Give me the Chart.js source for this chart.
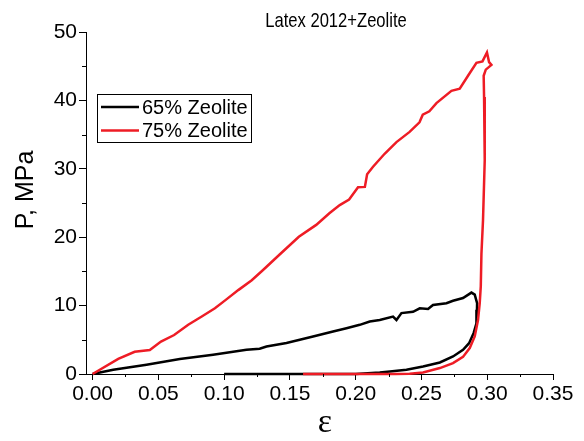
<!DOCTYPE html>
<html>
<head>
<meta charset="utf-8">
<script src="https://cdn.jsdelivr.net/npm/chart.js@4.4.0/dist/chart.umd.min.js"></script>
<style>
  body { margin: 0; background: #fff; }
  #wrap { width: 584px; height: 441px; }
</style>
</head>
<body>
<div id="wrap"><canvas id="myChart" width="584" height="441"></canvas></div>
<script>
// values (strain, stress in MPa)
const strain65 = [0, 0.0157, 0.041, 0.0663, 0.0916, 0.117, 0.127, 0.1322, 0.1474, 0.1575, 0.1676, 0.1828, 0.193, 0.2031, 0.2107, 0.2183, 0.2284, 0.231, 0.2348, 0.2436, 0.2487, 0.255, 0.2588, 0.269, 0.274, 0.2816, 0.288, 0.2905, 0.2923, 0.2922, 0.2918, 0.2897, 0.2862, 0.2816, 0.274, 0.264, 0.2512, 0.2386, 0.226, 0.2183, 0.20, 0.10];
const stress65 = [0, 0.63, 1.36, 2.19, 2.81, 3.54, 3.69, 4.02, 4.52, 5.0, 5.48, 6.21, 6.7, 7.19, 7.67, 7.9, 8.4, 7.9, 8.9, 9.1, 9.6, 9.5, 10.1, 10.35, 10.7, 11.1, 11.9, 11.6, 10.35, 9.4, 7.4, 6.0, 4.5, 3.54, 2.57, 1.69, 1.1, 0.63, 0.38, 0.23, 0, 0];

const strain75 = [0, 0.0195, 0.032, 0.0435, 0.052, 0.062, 0.0727, 0.083, 0.093, 0.101, 0.111, 0.121, 0.1296, 0.1418, 0.1568, 0.170, 0.180, 0.1879, 0.195, 0.2018, 0.207, 0.2087, 0.2132, 0.222, 0.231, 0.241, 0.2485, 0.251, 0.256, 0.2614, 0.2728, 0.2791, 0.2854, 0.2918, 0.2964, 0.2998, 0.3014, 0.3032, 0.2989, 0.2973, 0.2976, 0.2981, 0.2968, 0.2956, 0.2951, 0.2943, 0.293, 0.2905, 0.2867, 0.2816, 0.274, 0.264, 0.2512, 0.241, 0.23, 0.16];
const stress75 = [0, 2.2, 3.25, 3.5, 4.75, 5.7, 7.2, 8.4, 9.6, 10.8, 12.3, 13.7, 15.2, 17.4, 20.06, 21.8, 23.5, 24.7, 25.5, 27.3, 27.35, 29.2, 30.3, 32.2, 33.9, 35.4, 36.8, 37.9, 38.4, 39.6, 41.4, 41.7, 43.6, 45.5, 45.7, 47.0, 45.6, 45.2, 44.5, 43.6, 40.5, 31.2, 22.5, 17.6, 12.8, 10.35, 7.9, 5.5, 3.8, 2.5, 1.6, 0.87, 0.23, 0.05, 0, 0];

const seriesNames = ['65% Zeolite', '75% Zeolite'];
const seriesColors = ['#000000', '#ee1c25'];

const xTicks = [0, 0.05, 0.10, 0.15, 0.20, 0.25, 0.30, 0.35];
const xMinor = [0.025, 0.075, 0.125, 0.175, 0.225, 0.275, 0.325];
const yTicks = [0, 10, 20, 30, 40, 50];
const yMinor = [5, 15, 25, 35, 45];

const titleText = 'Latex 2012+Zeolite';
const xTitle = 'ε';
const yTitle = 'P, MPa';

const SANS = '"Liberation Sans", Arial, sans-serif';

function toPoints(xs, ys) {
    return xs.map((x, i) => ({ x: x, y: ys[i] }));
}

// minor ticks, titles and the boxed legend
const decorations = {
    id: 'decorations',
    afterDraw(chart) {
        const ctx = chart.ctx;
        const xs = chart.scales.x, ys = chart.scales.y;
        ctx.save();
        ctx.strokeStyle = '#000';
        ctx.lineWidth = 1;
        ctx.beginPath();
        for (const v of xMinor) {
            const px = Math.round(xs.getPixelForValue(v)) + 0.5;
            ctx.moveTo(px, ys.bottom);
            ctx.lineTo(px, ys.bottom + 3);
        }
        for (const v of yMinor) {
            const py = Math.round(ys.getPixelForValue(v)) + 0.5;
            ctx.moveTo(xs.left, py);
            ctx.lineTo(xs.left - 4, py);
        }
        ctx.stroke();

        ctx.fillStyle = '#000';
        ctx.textAlign = 'center';
        ctx.textBaseline = 'alphabetic';

        // title is a narrow face in the original
        ctx.save();
        ctx.translate(336, 27);
        ctx.scale(0.79, 1);
        ctx.font = '21px ' + SANS;
        ctx.fillText(titleText, 0, 0);
        ctx.restore();

        ctx.font = '34px "Liberation Serif", serif';
        ctx.fillText(xTitle, 325, 432);

        ctx.save();
        ctx.translate(26, 190);
        ctx.rotate(-Math.PI / 2);
        ctx.textBaseline = 'middle';
        ctx.font = '25px ' + SANS;
        ctx.fillText(yTitle, 0, 0);
        ctx.restore();

        // legend
        ctx.lineWidth = 1;
        ctx.strokeStyle = '#000';
        ctx.strokeRect(97.5, 94.5, 154, 48);
        ctx.textAlign = 'left';
        ctx.textBaseline = 'middle';
        ctx.font = '20px ' + SANS;
        seriesNames.forEach((name, i) => {
            const y = 107 + i * 23.5;
            ctx.strokeStyle = seriesColors[i];
            ctx.lineWidth = 2.5;
            ctx.beginPath();
            ctx.moveTo(101, y);
            ctx.lineTo(139, y);
            ctx.stroke();
            ctx.fillText(name, 142, y + 1);
        });
        ctx.restore();
    }
};

const ctx = document.getElementById('myChart').getContext('2d');
const myChart = new Chart(ctx, {
    type: 'scatter',
    data: {
        datasets: [
            {
                label: seriesNames[1],
                data: toPoints(strain75, stress75),
                showLine: true,
                borderColor: seriesColors[1],
                borderWidth: 2.5,
                pointRadius: 0,
                tension: 0,
                clip: 5
            },
            {
                label: seriesNames[0],
                data: toPoints(strain65, stress65),
                showLine: true,
                borderColor: seriesColors[0],
                borderWidth: 2.5,
                pointRadius: 0,
                tension: 0,
                clip: 5
            }
        ]
    },
    options: {
        responsive: false,
        animation: false,
        layout: { padding: { top: 32, right: 31, left: 0, bottom: 0 } },
        plugins: {
            legend: { display: false },
            tooltip: { enabled: false }
        },
        scales: {
            x: {
                type: 'linear',
                min: -0.005,
                max: 0.35,
                afterBuildTicks: s => { s.ticks = xTicks.map(v => ({ value: v })); },
                afterFit: s => { s.height = 67; },
                border: { color: '#000', width: 1 },
                grid: { drawOnChartArea: false, drawTicks: true, tickLength: 6, color: '#000' },
                ticks: {
                    color: '#000',
                    font: { family: SANS, size: 21 },
                    padding: 2,
                    maxRotation: 0,
                    autoSkip: false,
                    callback: v => v.toFixed(2)
                }
            },
            y: {
                type: 'linear',
                min: 0,
                max: 50,
                afterBuildTicks: s => { s.ticks = yTicks.map(v => ({ value: v })); },
                afterFit: s => { s.width = 86; },
                border: { color: '#000', width: 1 },
                grid: { drawOnChartArea: false, drawTicks: true, tickLength: 7, color: '#000' },
                ticks: {
                    color: '#000',
                    font: { family: SANS, size: 21 },
                    padding: 2,
                    autoSkip: false
                }
            }
        }
    },
    plugins: [decorations]
});
</script>
</body>
</html>
